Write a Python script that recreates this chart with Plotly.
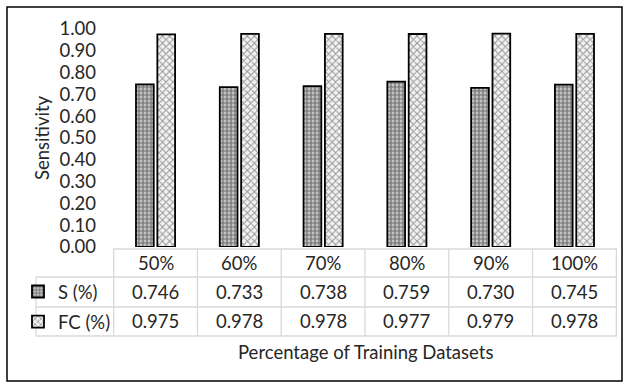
import plotly.graph_objects as go

# Data
categories = ["50%", "60%", "70%", "80%", "90%", "100%"]
s_values = [0.746, 0.733, 0.738, 0.759, 0.730, 0.745]
fc_values = [0.975, 0.978, 0.978, 0.977, 0.979, 0.978]
series_names = ["S (%)", "FC (%)"]
y_ticks = [0.0, 0.1, 0.2, 0.3, 0.4, 0.5, 0.6, 0.7, 0.8, 0.9, 1.0]

W, H = 629, 384
L, R, T, B = 113, 12, 29, 137
PW, PH = W - L - R, H - T - B

FONT = "Lato"
FS = 18.5
TXT = "#262626"
GRID = "#d9d9d9"


def px(xp):
    return (xp - L) / PW


def py(yp):
    return (H - B - yp) / PH


fig = go.Figure()
fig.add_bar(
    x=categories, y=s_values, name=series_names[0],
    marker=dict(color="white", line=dict(color="black", width=1.8),
                pattern=dict(shape="+", fgcolor="#1a1a1a", bgcolor="#c4c4c4",
                             size=4, solidity=0.5)),
    legendgroup="s",
)
fig.add_bar(
    x=categories, y=fc_values, name=series_names[1],
    marker=dict(color="white", line=dict(color="black", width=1.8),
                pattern=dict(shape="x", fgcolor="#333333", bgcolor="#f2f2f2",
                             size=5, solidity=0.35)),
    legendgroup="fc",
)

shapes = []
# outer frame
shapes.append(dict(type="rect", xref="paper", yref="paper",
                   x0=px(7), x1=px(622), y0=py(381), y1=py(7),
                   line=dict(color="black", width=1.5)))
# table horizontal rules
shapes.append(dict(type="line", xref="paper", yref="paper",
                   x0=px(113), x1=px(617), y0=py(249), y1=py(249),
                   line=dict(color=GRID, width=1.3)))
for yp in (277, 307, 336):
    shapes.append(dict(type="line", xref="paper", yref="paper",
                       x0=px(36), x1=px(617), y0=py(yp), y1=py(yp),
                       line=dict(color=GRID, width=1.3)))
# table vertical rules at category boundaries
for i in range(len(categories) + 1):
    shapes.append(dict(type="line", xref="x", yref="paper",
                       x0=i - 0.5, x1=i - 0.5, y0=py(249), y1=py(336),
                       line=dict(color=GRID, width=1.3)))
shapes.append(dict(type="line", xref="paper", yref="paper",
                   x0=px(36), x1=px(36), y0=py(277), y1=py(336),
                   line=dict(color=GRID, width=1.3)))

annotations = []
rows = [(categories, 263), ([f"{v:.3f}" for v in s_values], 292),
        ([f"{v:.3f}" for v in fc_values], 321)]
for labels, yp in rows:
    for i, lab in enumerate(labels):
        annotations.append(dict(x=i, y=py(yp), xref="x", yref="paper",
                                text=lab, showarrow=False,
                                font=dict(family=FONT, size=FS, color=TXT),
                                xanchor="center", yanchor="middle"))
annotations.append(dict(x=0.5, y=py(352), xref="paper", yref="paper",
                        text="Percentage of Training Datasets", showarrow=False,
                        font=dict(family=FONT, size=FS, color=TXT),
                        xanchor="center", yanchor="middle"))
annotations.append(dict(x=px(42), y=py(138), xref="paper", yref="paper",
                        text="Sensitivity", showarrow=False, textangle=-90,
                        font=dict(family=FONT, size=FS, color=TXT),
                        xanchor="center", yanchor="middle"))

fig.update_layout(
    width=W, height=H,
    margin=dict(l=L, r=R, t=T, b=B),
    paper_bgcolor="white", plot_bgcolor="white",
    barmode="group", bargap=0.49, bargroupgap=0.17,
    font=dict(family=FONT, size=FS, color=TXT),
    shapes=shapes, annotations=annotations,
    showlegend=True,
    legend=dict(x=px(18), y=py(273), xanchor="left", yanchor="top",
                tracegroupgap=3, itemwidth=30,
                font=dict(family=FONT, size=FS, color=TXT),
                bgcolor="rgba(0,0,0,0)"),
)
fig.update_xaxes(showticklabels=False, showline=False, ticks="",
                 showgrid=False, zeroline=False)
fig.update_yaxes(range=[0, 1], tickvals=y_ticks, tickformat=".2f",
                 showgrid=False, zeroline=False, showline=False,
                 ticks="", ticklabelstandoff=16,
                 tickfont=dict(family=FONT, size=FS, color=TXT))

fig.write_html("out.html")
